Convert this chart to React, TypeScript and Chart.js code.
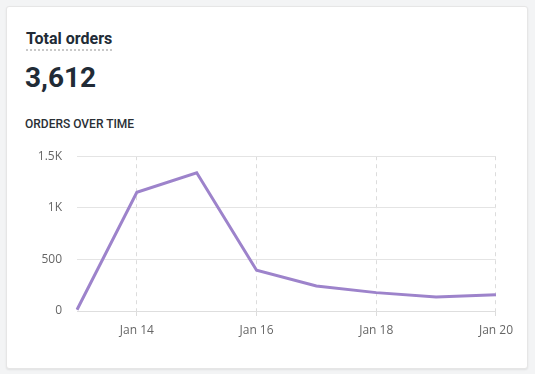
import React, { useEffect, useRef } from "react";
import { Chart, registerables } from "chart.js";

Chart.register(...registerables);

const dateLabels = ["Jan 13", "Jan 14", "Jan 15", "Jan 16", "Jan 17", "Jan 18", "Jan 19", "Jan 20"];
const orderValues = [12, 1150, 1340, 395, 243, 178, 136, 158];
const yTickValues = [0, 500, 1000, 1500];
const yTickLabels = ["0", "500", "1K", "1.5K"];
const totalLabel = "3,612";

export default function App() {
  const ref = useRef<HTMLCanvasElement | null>(null);

  useEffect(() => {
    if (!ref.current) return;
    const chart = new Chart(ref.current, {
      type: "line",
      data: {
        labels: dateLabels,
        datasets: [
          {
            data: orderValues,
            borderColor: "#9d83cb",
            borderWidth: 3,
            pointRadius: 0,
            tension: 0,
            fill: false,
          },
        ],
      },
      options: {
        animation: false,
        responsive: false,
        maintainAspectRatio: false,
        layout: { padding: { top: 0, right: 0, left: 0, bottom: 0 } },
        plugins: { legend: { display: false }, tooltip: { enabled: false } },
        scales: {
          x: {
            grid: {
              color: (ctx: any) => (ctx.index % 2 === 1 ? "#dcdcdc" : "rgba(0,0,0,0)"),
              tickLength: 6,
              tickBorderDash: [4, 4],
            } as any,
            border: { display: true, color: "#dedede", dash: [4, 4] } as any,
            ticks: {
              autoSkip: false,
              maxRotation: 0,
              padding: 6,
              color: "#666",
              font: { family: "'Open Sans'", size: 12 },
              callback: (_v: any, i: number) => (i % 2 === 1 ? dateLabels[i] : ""),
            },
            afterFit: (s: any) => {
              s.height = 40;
            },
          },
          y: {
            min: 0,
            max: 1500,
            grid: { color: "#e4e4e4", drawTicks: false },
            border: { display: false },
            afterBuildTicks: (s: any) => {
              s.ticks = yTickValues.map((v) => ({ value: v }));
            },
            ticks: {
              padding: 15,
              color: "#666",
              font: { family: "'Open Sans'", size: 12 },
              callback: (v: any) => yTickLabels[yTickValues.indexOf(Number(v))] ?? "",
            },
            afterFit: (s: any) => {
              s.width = 57;
            },
          },
        },
      },
    });
    return () => chart.destroy();
  }, []);

  return (
    <div style={{ position: "fixed", inset: 0, background: "#f3f4f5", fontFamily: "Roboto, sans-serif" }}>
      <div
        style={{
          position: "absolute",
          left: 6,
          top: 6,
          width: 520,
          height: 361,
          background: "#fff",
          border: "1px solid #e6e6e6",
          borderRadius: 3,
          boxShadow: "0 1px 2px rgba(0,0,0,0.08)",
        }}
      />
      <div
        style={{
          position: "absolute",
          left: 26,
          top: 29,
          fontSize: 16,
          lineHeight: "20px",
          fontWeight: 700,
          color: "#212b36",
          borderBottom: "2px dotted #c8c8c8",
        }}
      >
        Total orders
      </div>
      <div
        style={{
          position: "absolute",
          left: 25,
          top: 61,
          fontSize: 28,
          lineHeight: "34px",
          fontWeight: 700,
          color: "#212b36",
        }}
      >
        {totalLabel}
      </div>
      <div
        style={{
          position: "absolute",
          left: 25,
          top: 117,
          fontSize: 12,
          lineHeight: "14px",
          fontWeight: 500,
          color: "#2a2f35",
        }}
      >
        ORDERS OVER TIME
      </div>
      <canvas
        ref={ref}
        width={499}
        height={217}
        style={{ position: "absolute", left: 20, top: 134, width: 499, height: 217 }}
      />
    </div>
  );
}
